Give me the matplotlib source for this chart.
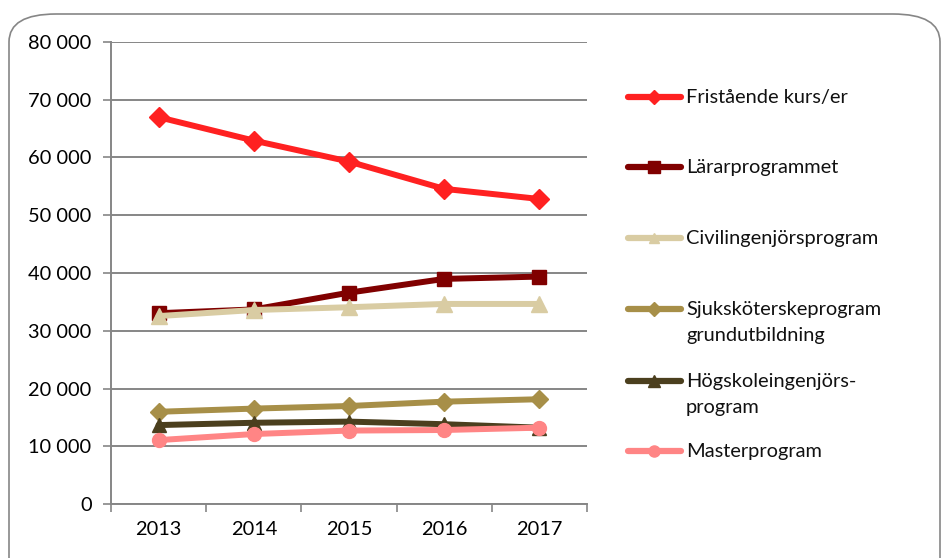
import matplotlib.pyplot as plt
from matplotlib.patches import FancyBboxPatch
from matplotlib.lines import Line2D

years = ['2013', '2014', '2015', '2016', '2017']
fristaende = [66950, 62900, 59270, 54550, 52800]
lararprog = [33050, 33700, 36600, 38980, 39380]
civilingenjor = [32550, 33600, 34080, 34650, 34650]
sjukskoterske = [16000, 16550, 17000, 17750, 18170]
hogskoleingenjor = [13700, 14100, 14300, 13850, 13250]
master = [11100, 12150, 12750, 12850, 13250]

labels = ['Fristående kurs/er', 'Lärarprogrammet', 'Civilingenjörsprogram',
          'Sjuksköterskeprogram\ngrundutbildning', 'Högskoleingenjörs-\nprogram',
          'Masterprogram']
colors = ['#FF2121', '#800000', '#D9CCA3', '#A78F48', '#4B3F1E', '#FF8585']
markers = ['D', 's', '^', 'D', '^', 'o']
msizes = [10, 10, 11, 9, 10, 10]
leg_ms = [7, 9, 7, 7, 8, 8]
series = [fristaende, lararprog, civilingenjor, sjukskoterske, hogskoleingenjor, master]

plt.rcParams['font.family'] = ['Lato', 'DejaVu Sans']
grey = '#868686'
fs = 14.4

fig = plt.figure(figsize=(9.43, 5.58), dpi=100)

# rounded frame around the chart
box = FancyBboxPatch((9 / 943, -0.05), 931 / 943, 1 - 14 / 558 + 0.05,
                     boxstyle='round,pad=0,rounding_size=0.05',
                     transform=fig.transFigure, facecolor='white',
                     edgecolor=grey, lw=1.2, zorder=0)
fig.add_artist(box)

ax = fig.add_axes([111 / 943, 1 - 504.3 / 558, 476 / 943, 462.6 / 558])
ax.set_facecolor('none')
x = range(len(years))
for vals, c, m, ms in zip(series, colors, markers, msizes):
    ax.plot(x, vals, color=c, lw=4.3, marker=m, markersize=ms,
            markeredgecolor=c, solid_capstyle='round', clip_on=False)

ax.set_xlim(-0.5, 4.5)
ax.set_ylim(0, 80000)
ax.set_yticks(range(0, 80001, 10000))
ax.set_yticklabels([f'{v // 1000} 000' if v else '0' for v in range(0, 80001, 10000)])
ax.set_xticks(list(x))
ax.set_xticklabels(years)
ax.set_xticks([i - 0.5 for i in range(6)], minor=True)
ax.tick_params(axis='x', which='major', length=0, pad=12, labelsize=fs)
ax.tick_params(axis='x', which='minor', length=6, color=grey, width=1.2)
ax.tick_params(axis='y', length=6, color=grey, width=1.2, pad=8, labelsize=fs)
ax.grid(axis='y', color=grey, lw=1.4)
ax.set_axisbelow(True)
for s in ['top', 'right']:
    ax.spines[s].set_visible(False)
for s in ['left', 'bottom']:
    ax.spines[s].set_color(grey)
    ax.spines[s].set_linewidth(1.4)

# legend, handle aligned with first text line
leg_y = [97, 167, 238, 309, 381, 451]
for yy, lab, c, m, ms in zip(leg_y, labels, colors, markers, leg_ms):
    fy = 1 - yy / 558
    fig.add_artist(Line2D([628 / 943, 681 / 943], [fy, fy], transform=fig.transFigure,
                          color=c, lw=4.5, solid_capstyle='round'))
    fig.add_artist(Line2D([654 / 943], [fy], transform=fig.transFigure, color=c,
                          marker=m, markersize=ms, markeredgecolor=c))
    fig.text(686 / 943, fy + 8 / 558, lab, ha='left', va='top', fontsize=fs,
             linespacing=1.62, color='#111111')

fig.savefig('out.png', dpi=100)
